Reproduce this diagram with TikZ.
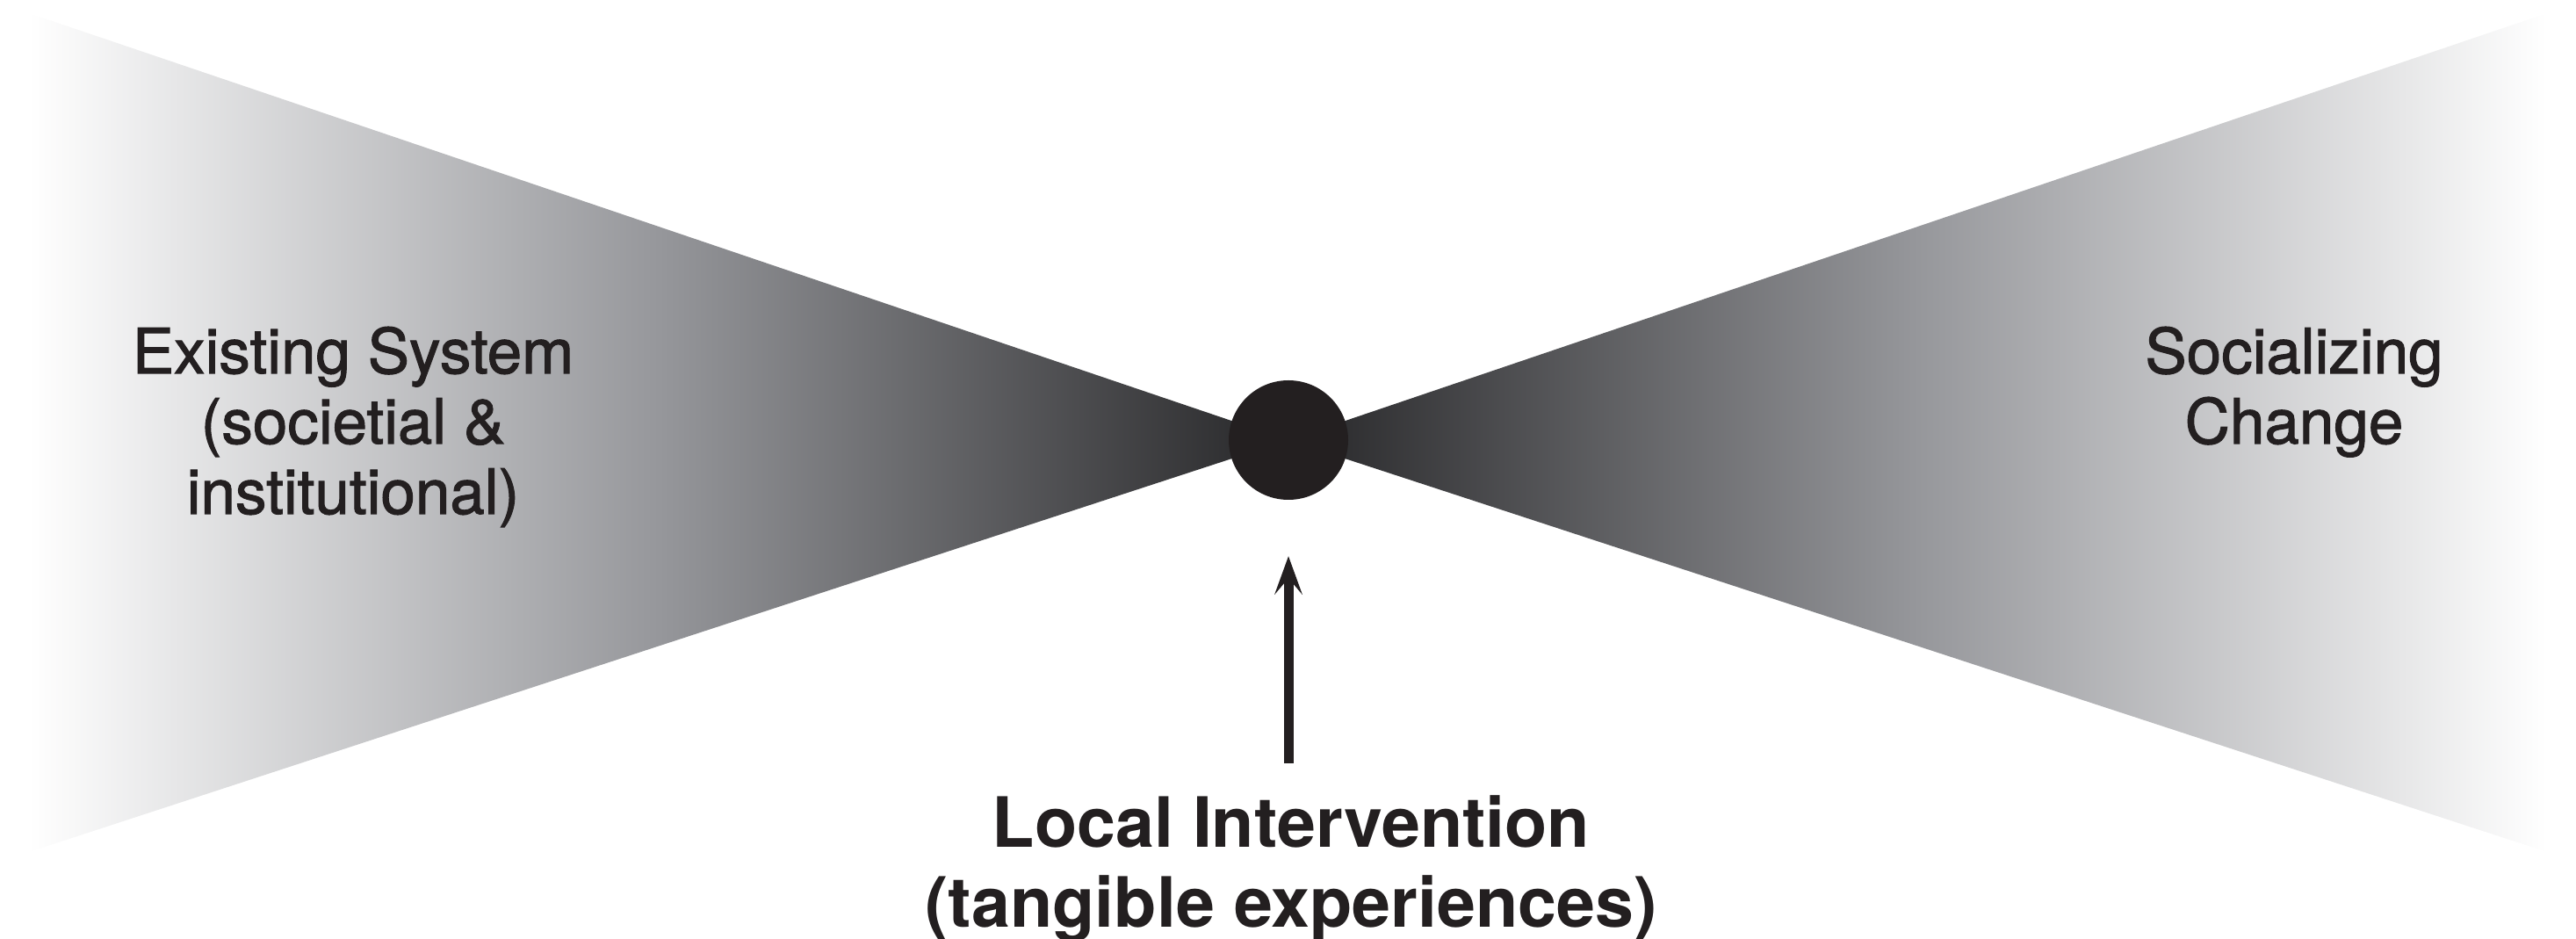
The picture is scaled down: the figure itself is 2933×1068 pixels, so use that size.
\documentclass[tikz,border=0pt]{standalone}
\usepackage{fontspec}
\setmainfont{TeX Gyre Heros}
\newfontfamily\medfont[FakeBold=1.5]{TeX Gyre Heros}
\usetikzlibrary{arrows.meta}
\definecolor{ink}{RGB}{35,31,32}
\definecolor{darkend}{RGB}{38,38,40}
\definecolor{midgray}{RGB}{150,151,155}
\begin{document}
\begin{tikzpicture}[x=1pt,y=1pt,
  sidetext/.style={text=ink, align=center, inner sep=0pt, font=\medfont\fontsize{71}{80}\selectfont},
  boldtext/.style={text=ink, align=center, inner sep=0pt, font=\fontsize{79}{91}\selectfont\bfseries},
  arr/.style={draw=ink, line width=11pt, -{Stealth[length=44pt,width=32pt,inset=19pt,line width=0pt]}},
  hub/.style={circle, fill=ink, minimum size=136pt, inner sep=0pt}]
\useasboundingbox (0,0) rectangle (2933,1068);
\coordinate (apex) at (1467,567);
\coordinate (lt) at (33,1053);
\coordinate (lb) at (33,98);
\coordinate (rt) at (2900,1053);
\coordinate (rb) at (2900,98);
\shade[left color=white, right color=darkend, middle color=midgray] (lt) -- (apex) -- (lb) -- cycle;
\shade[left color=darkend, right color=white, middle color=midgray] (rt) -- (apex) -- (rb) -- cycle;
\node[hub] (dot) at (apex) {};
\node[sidetext, anchor=base] (exist) at (402,483) {Existing System\\(societial \&\\institutional)};
\node[sidetext, anchor=base] (social) at (2612,563) {Socializing\\Change};
\node[boldtext, anchor=base] (local) at (1470,13) {Local Intervention\\(tangible experiences)};
\coordinate (tail) at (1467,199);
\draw[arr] (tail) -- ([yshift=-64pt]dot.south);
\end{tikzpicture}
\end{document}
